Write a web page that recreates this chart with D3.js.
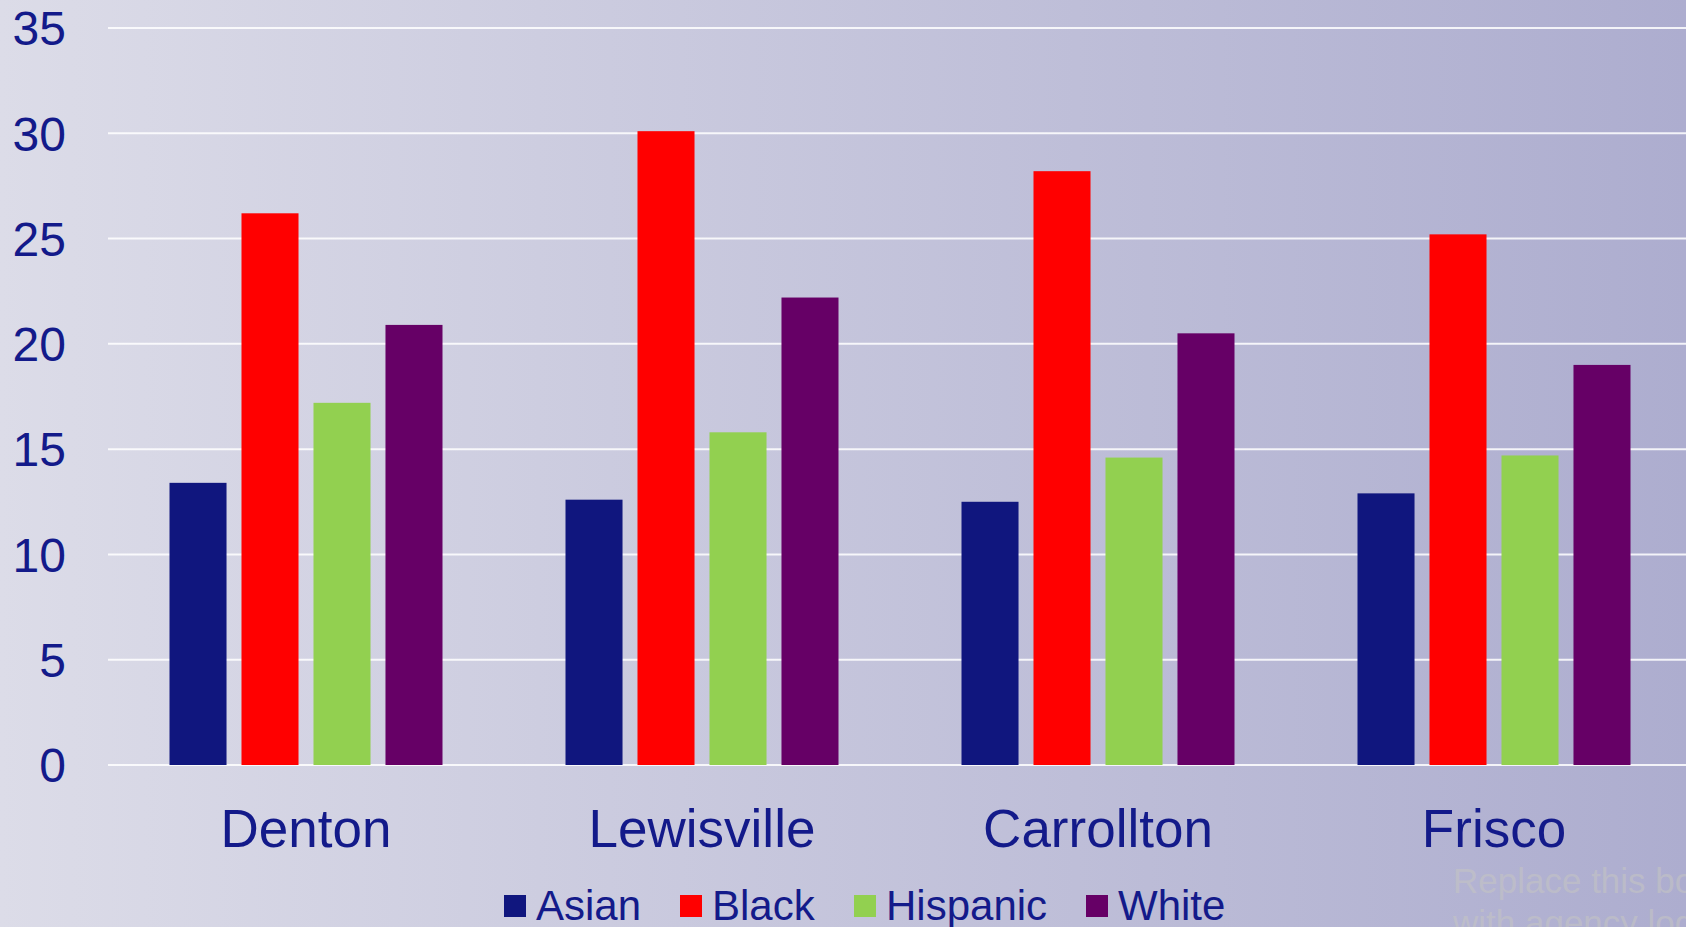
<!DOCTYPE html>
<html>
<head>
<meta charset="utf-8">
<script src="https://cdn.jsdelivr.net/npm/d3@7"></script>
<style>
  body { margin: 0; overflow: hidden; }
  svg { display: block; font-family: "Liberation Sans", Arial, sans-serif; }
</style>
</head>
<body>
<div id="chart"></div>
<script>
// data
var cities = ["Denton", "Lewisville", "Carrollton", "Frisco"];
var groups = ["Asian", "Black", "Hispanic", "White"];
var asian = [13.4, 12.6, 12.5, 12.9];
var black = [26.2, 30.1, 28.2, 25.2];
var hispanic = [17.2, 15.8, 14.6, 14.7];
var white = [20.9, 22.2, 20.5, 19.0];
var yTicks = [0, 5, 10, 15, 20, 25, 30, 35];
var colors = ["#10167e", "#ff0000", "#92d050", "#660066"];

var series = [asian, black, hispanic, white];
var width = 1686, height = 927;
var textColor = "#131a8a";

var svg = d3.select("#chart").append("svg")
    .attr("width", width)
    .attr("height", height);

// background gradient
var grad = svg.append("defs").append("linearGradient")
    .attr("id", "bg")
    .attr("x1", "0%").attr("x2", "100%")
    .attr("y1", "0%").attr("y2", "0%");
grad.append("stop").attr("offset", "0%").attr("stop-color", "#dcdce8");
grad.append("stop").attr("offset", "100%").attr("stop-color", "#adadcf");

svg.append("rect")
    .attr("width", width)
    .attr("height", height)
    .attr("fill", "url(#bg)");

// scales
var x = d3.scaleBand()
    .domain(cities)
    .range([108, 108 + 4 * 396]);

var xInner = d3.scaleBand()
    .domain(groups)
    .range([61.5, 334.5])
    .paddingInner(0.208);

var y = d3.scaleLinear()
    .domain([0, 35])
    .range([765, 28]);

// gridlines
svg.append("g")
    .selectAll("line")
    .data(yTicks)
    .enter().append("line")
    .attr("x1", 108)
    .attr("x2", width)
    .attr("y1", function(d) { return y(d); })
    .attr("y2", function(d) { return y(d); })
    .attr("stroke", "#ffffff")
    .attr("stroke-opacity", 0.85)
    .attr("stroke-width", 2);

// y tick labels
svg.append("g")
    .selectAll("text")
    .data(yTicks)
    .enter().append("text")
    .attr("x", 66)
    .attr("y", function(d) { return y(d); })
    .attr("dy", "0.36em")
    .attr("text-anchor", "end")
    .attr("font-size", 48)
    .attr("fill", textColor)
    .text(function(d) { return d; });

// bars
var cityG = svg.append("g")
    .selectAll("g")
    .data(cities)
    .enter().append("g")
    .attr("transform", function(d) { return "translate(" + x(d) + ",0)"; });

cityG.selectAll("rect")
    .data(function(d, i) {
        return groups.map(function(g, j) { return { group: g, value: series[j][i], color: colors[j] }; });
    })
    .enter().append("rect")
    .attr("x", function(d) { return xInner(d.group); })
    .attr("width", xInner.bandwidth())
    .attr("y", function(d) { return y(d.value); })
    .attr("height", function(d) { return y(0) - y(d.value); })
    .attr("fill", function(d) { return d.color; });

// category labels
svg.append("g")
    .selectAll("text")
    .data(cities)
    .enter().append("text")
    .attr("x", function(d) { return x(d) + x.bandwidth() / 2; })
    .attr("y", 847)
    .attr("text-anchor", "middle")
    .attr("font-size", 53)
    .attr("fill", textColor)
    .text(function(d) { return d; });

// legend
var legendX = [504, 680, 854, 1086];
var legend = svg.append("g")
    .selectAll("g")
    .data(groups)
    .enter().append("g")
    .attr("transform", function(d, i) { return "translate(" + legendX[i] + ",0)"; });

legend.append("rect")
    .attr("x", 0)
    .attr("y", 895)
    .attr("width", 22)
    .attr("height", 22)
    .attr("fill", function(d, i) { return colors[i]; });

legend.append("text")
    .attr("x", 32)
    .attr("y", 920)
    .attr("font-size", 42)
    .attr("fill", textColor)
    .text(function(d) { return d; });

// faint placeholder text
var note = svg.append("text")
    .attr("x", 1453)
    .attr("y", 893)
    .attr("font-size", 35)
    .attr("fill", "#c4c4c4")
    .attr("fill-opacity", 0.6);
note.append("tspan").attr("x", 1453).text("Replace this box");
note.append("tspan").attr("x", 1453).attr("dy", 42).text("with agency logo");
</script>
</body>
</html>
